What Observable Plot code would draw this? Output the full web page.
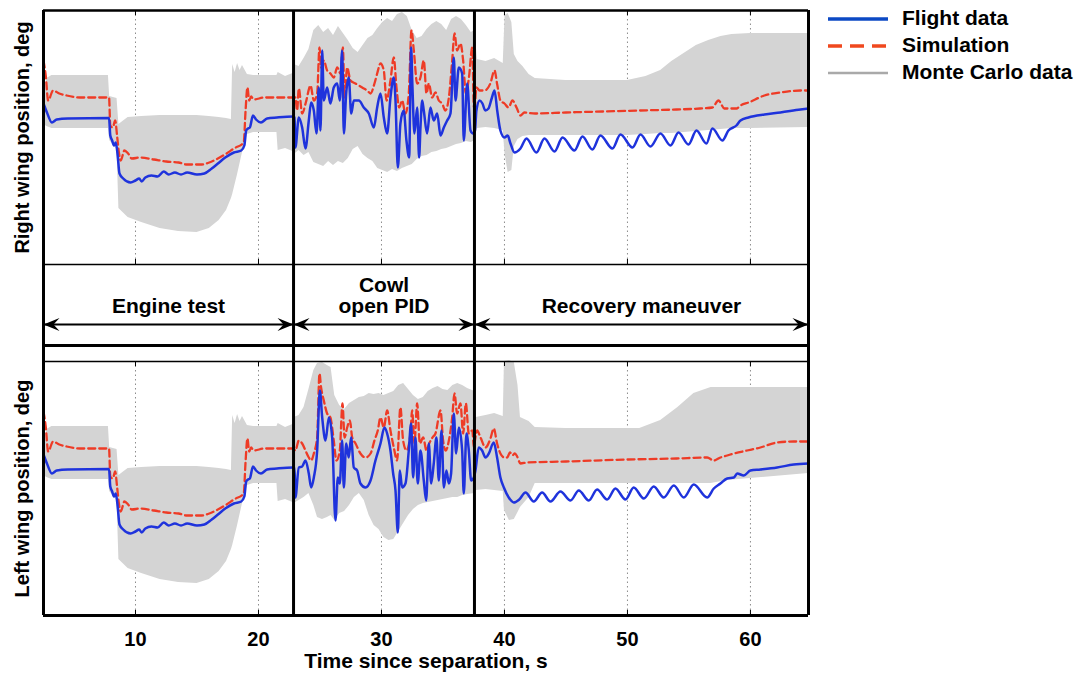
<!DOCTYPE html>
<html><head><meta charset="utf-8">
<script src="https://cdn.jsdelivr.net/npm/d3@7"></script>
<script src="https://cdn.jsdelivr.net/npm/@observablehq/plot@0.6"></script>
<style>
html,body{margin:0;padding:0;background:#fff;}
#chart{position:relative;width:1081px;height:679px;font-family:"Liberation Sans",Arial,Helvetica,sans-serif;}
#chart svg.plotsvg{position:absolute;left:0;}
.leg{position:absolute;left:826px;height:27px;line-height:27px;font-weight:bold;font-size:21px;color:#000;white-space:nowrap;}
.leg svg{vertical-align:middle;margin-right:12px;}
</style></head><body><div id="chart"></div>
<script>
// ---------- axes / phases ----------
const xDomain = [2.52, 64.72];
const yDomain = [0, 25.4];
const gridTicks = [10, 20, 30, 40, 50, 60];
const phaseBounds = [22.85, 37.56];
const phaseStart = [2.52, 22.85, 37.56];
const phaseEnd = [22.85, 37.56, 64.72];
const phaseLabels = ["Engine test", "Cowl\nopen PID", "Recovery maneuver"];
const legendLabels = ["Flight data", "Simulation", "Monte Carlo data"];

// ---------- engine test segment (same on both wings) : [t, deg] ----------
const engineFlight = [[2.52,16.1],[2.8,15.2],[3.2,14.2],[3.6,14.5],[4.5,14.6],[7.85,14.65],[7.95,12.9],[8.1,12.4],[8.25,11.9],[8.4,12.2],[8.55,10.9],[8.7,9.1],[9.0,8.6],[9.6,8.2],[10.0,8.4],[10.3,8.6],[10.5,8.3],[10.8,8.7],[11.3,8.9],[11.8,8.8],[12.3,9.3],[12.7,9.0],[13.2,9.2],[13.7,9.0],[14.2,9.2],[15.0,9.0],[15.6,9.1],[16.2,9.6],[16.7,10.1],[17.3,10.7],[18.0,11.2],[18.6,11.4],[18.85,11.9],[19.0,13.4],[19.15,13.6],[19.3,13.7],[19.55,14.9],[19.8,14.5],[20.2,14.2],[20.7,14.6],[21.5,14.7],[22.8,14.8]];
const engineSim = [[2.52,20.4],[2.7,18.9],[2.9,16.4],[3.3,17.4],[3.8,17.1],[4.4,16.9],[5.5,16.7],[7.85,16.7],[7.95,13.9],[8.15,13.7],[8.35,14.4],[8.5,12.9],[8.65,11.2],[8.8,10.4],[9.1,11.4],[9.4,11.1],[9.7,10.6],[10.4,10.7],[11.5,10.5],[12.5,10.3],[13.5,10.2],[14.2,10.0],[15.3,10.0],[16.0,10.2],[16.7,10.6],[17.4,11.1],[18.0,11.6],[18.8,12.2],[18.95,15.4],[19.1,17.7],[19.25,16.4],[19.4,16.8],[19.6,16.5],[20.5,16.7],[22.8,16.7]];
// Monte Carlo envelope: [t, low, high]
const engineMC = [[2.52,14.0,16.5],[2.8,13.8,18.6],[3.2,13.6,18.9],[7.8,13.6,18.9],[7.9,12.4,16.8],[8.5,11.5,16.6],[8.65,5.6,14.0],[9.4,4.7,14.7],[10.5,4.2,14.8],[12,3.6,14.9],[13.5,3.3,14.9],[15,3.2,14.9],[16,3.6,14.8],[16.8,4.4,14.7],[17.4,5.4,14.6],[17.8,6.6,14.5],[17.9,7.0,20.0],[18.1,8.0,19.2],[18.3,9.0,20.1],[18.5,10.1,19.4],[18.7,11.2,19.9],[19.1,13.0,19.0],[19.6,13.2,18.9],[21.5,13.2,18.9],[21.6,11.4,19.2],[22.2,11.6,18.8],[22.8,11.3,19.1]];

// ---------- right wing ----------
const rightCowlFlight = [[22.93,14.7],[23.0,11.7],[23.28,14.7],[23.55,13.7],[23.82,11.6],[24.09,14.4],[24.28,16.2],[24.5,15.4],[24.72,13.1],[24.9,17.7],[25.04,13.4],[25.18,21.4],[25.31,16.4],[25.58,17.7],[25.85,16.1],[26.12,17.7],[26.4,18.1],[26.61,16.4],[26.8,21.4],[26.94,13.1],[27.13,17.1],[27.34,18.7],[27.54,15.1],[27.75,16.4],[28.16,16.4],[28.56,15.7],[28.97,15.1],[29.38,13.7],[29.65,15.7],[29.92,17.1],[30.19,14.7],[30.46,13.1],[30.73,16.7],[31.0,18.7],[31.14,16.4],[31.33,9.7],[31.54,14.1],[31.81,15.4],[32.03,12.4],[32.25,10.7],[32.41,21.7],[32.52,17.7],[32.68,13.1],[32.9,15.7],[33.06,10.7],[33.17,13.7],[33.31,16.4],[33.44,15.4],[33.71,13.1],[33.98,15.7],[34.25,14.4],[34.53,15.1],[34.8,12.9],[35.07,13.7],[35.34,14.4],[35.61,15.1],[35.88,20.7],[36.02,16.4],[36.29,19.7],[36.56,19.1],[36.69,12.4],[36.97,18.1],[37.24,13.4],[37.45,13.1]];
const rightCowlSim = [[23.0,16.7],[23.14,15.4],[23.28,17.6],[23.55,15.1],[23.85,16.2],[24.23,17.9],[24.5,16.4],[24.77,17.1],[24.96,21.7],[25.09,19.7],[25.31,20.4],[25.58,19.4],[25.85,19.1],[26.12,18.7],[26.4,19.7],[26.67,19.1],[26.86,21.7],[27.0,16.7],[27.21,19.7],[27.48,18.4],[27.89,18.1],[28.43,17.7],[28.84,17.4],[29.11,17.1],[29.43,18.1],[29.65,19.1],[29.92,20.1],[30.19,19.4],[30.41,16.4],[30.73,18.4],[31.0,20.7],[31.22,17.7],[31.44,15.7],[31.68,16.4],[31.95,15.1],[32.22,17.1],[32.44,23.4],[32.63,21.4],[32.9,18.1],[33.17,18.7],[33.44,20.4],[33.66,17.1],[33.85,18.1],[34.12,16.7],[34.39,17.2],[34.66,16.4],[34.93,16.1],[35.2,15.4],[35.48,16.7],[35.75,20.4],[35.94,23.1],[36.15,21.4],[36.42,22.1],[36.64,20.4],[36.86,17.1],[37.11,18.7],[37.38,21.7],[37.52,15.7]];
const rightCowlMC = [[22.9,11.0,20.0],[23.3,11.4,19.8],[23.7,10.9,20.6],[24.1,11.2,21.5],[24.5,10.2,23.4],[24.9,10.0,23.9],[25.3,9.8,23.2],[25.7,10.3,23.6],[26.1,9.9,22.9],[26.5,10.3,23.8],[26.9,10.1,23.1],[27.3,10.6,22.4],[27.7,11.5,21.6],[28.1,11.8,21.2],[28.5,11.0,21.9],[28.9,10.6,22.6],[29.3,10.3,22.9],[29.7,9.6,23.6],[30.1,9.4,24.2],[30.5,9.2,24.6],[30.9,9.5,24.3],[31.3,9.3,25.0],[31.7,9.6,25.2],[32.1,9.8,24.8],[32.5,10.0,23.4],[32.9,10.5,22.6],[33.3,10.8,22.8],[33.7,10.9,23.5],[34.1,11.2,24.0],[34.5,11.3,24.3],[34.9,11.5,24.0],[35.3,11.6,23.4],[35.7,11.8,24.5],[36.1,12.0,24.8],[36.5,12.1,24.5],[36.9,12.3,23.9],[37.3,12.2,23.2],[37.6,12.4,23.4]];
const rightRecFlight = [[37.6,13.4],[37.72,15.4],[37.98,16.4],[38.21,16.1],[38.44,15.4],[38.7,15.6],[38.96,16.6],[39.19,17.4],[39.41,15.4],[39.67,13.4],[40.0,12.7],[40.26,12.9],[40.49,12.1],[40.81,11.2],[41.3,11.6],[41.79,12.6],[42.6,11.2],[43.25,12.6],[44.07,11.3],[44.72,12.7],[45.69,11.4],[46.34,12.8],[47.15,11.5],[47.8,12.9],[48.78,11.6],[49.43,13.0],[50.41,11.7],[51.06,13.0],[51.87,11.8],[52.68,13.1],[53.5,11.9],[54.15,13.2],[54.96,12.0],[55.61,13.4],[56.42,12.1],[56.91,13.6],[57.72,12.4],[58.21,13.4],[58.86,13.9],[59.19,14.4],[59.84,14.7],[61.14,15.0],[62.44,15.2],[64.07,15.5],[64.72,15.6]];
const rightRecSim = [[37.6,16.0],[37.72,17.7],[37.98,17.4],[38.4,17.4],[38.85,18.1],[39.19,19.4],[39.41,18.0],[39.67,16.4],[40.0,16.1],[40.33,15.7],[40.65,16.4],[40.98,15.7],[41.3,14.9],[41.62,15.2],[42.5,15.1],[45,15.2],[48,15.3],[51,15.4],[54,15.5],[55.9,15.6],[56.91,15.7],[57.4,16.4],[57.88,15.6],[58.86,15.6],[59.19,15.9],[59.84,16.2],[61.14,16.9],[62.44,17.2],[64.07,17.4],[64.72,17.4]];
const rightRecMC = [[37.8,13.6,20.5],[38.5,13.7,20.3],[39.2,13.6,20.6],[39.9,13.4,20.1],[40.05,11.0,24.9],[40.3,9.2,25.1],[40.6,9.4,24.2],[40.8,11.8,21.0],[41.1,12.5,20.3],[41.5,12.8,19.8],[42.0,12.9,19.0],[42.5,12.9,18.6],[45,12.9,18.4],[50,12.9,18.4],[51.5,13.0,18.8],[52.7,13.1,19.4],[53.6,13.1,20.3],[54.6,13.2,21.1],[55.6,13.3,21.9],[56.6,13.4,22.4],[57.6,13.5,22.8],[58.5,13.6,23.0],[60,13.6,23.1],[64.72,13.7,23.1]];

// ---------- left wing ----------
const leftCowlFlight = [[22.93,14.8],[23.0,11.8],[23.28,14.8],[23.55,14.9],[23.82,15.5],[24.09,14.2],[24.28,12.8],[24.5,13.8],[24.77,16.5],[24.99,22.5],[25.18,19.8],[25.45,17.5],[25.72,19.8],[25.99,17.8],[26.26,9.5],[26.45,13.8],[26.61,13.2],[26.8,17.5],[26.94,12.8],[27.13,17.2],[27.34,15.8],[27.53,17.8],[27.75,14.8],[28.02,14.5],[28.29,13.2],[28.7,12.8],[29.11,13.5],[29.51,15.5],[29.92,17.2],[30.24,18.8],[30.46,18.2],[30.73,16.5],[30.95,14.2],[31.14,12.5],[31.33,8.3],[31.49,14.5],[31.68,12.8],[31.95,13.2],[32.22,16.5],[32.41,19.2],[32.57,13.8],[32.76,17.8],[32.95,13.2],[33.17,16.5],[33.44,13.5],[33.63,11.5],[33.85,17.2],[34.04,13.2],[34.25,15.2],[34.47,17.8],[34.66,13.5],[34.88,18.5],[35.07,12.8],[35.28,14.5],[35.48,13.2],[35.66,14.2],[35.88,20.2],[36.07,16.2],[36.29,18.8],[36.56,16.5],[36.69,12.2],[36.91,18.2],[37.1,16.5],[37.29,13.5],[37.51,13.8]];
const leftCowlSim = [[23.0,16.5],[23.28,17.5],[23.55,17.2],[23.82,16.5],[24.09,15.8],[24.28,15.5],[24.5,16.2],[24.77,17.8],[24.96,24.2],[25.09,22.8],[25.31,21.5],[25.58,20.2],[25.85,19.8],[26.12,17.5],[26.34,15.5],[26.61,16.5],[26.83,21.2],[27.0,17.8],[27.21,18.8],[27.43,19.5],[27.62,17.8],[27.89,17.2],[28.29,16.2],[28.7,15.8],[29.11,16.2],[29.43,17.5],[29.7,18.5],[29.92,19.8],[30.19,18.8],[30.46,20.5],[30.73,18.5],[31.0,16.8],[31.27,15.5],[31.54,20.8],[31.76,17.5],[32.03,16.5],[32.36,18.2],[32.49,20.5],[32.68,17.2],[32.9,21.2],[33.12,17.2],[33.39,17.8],[33.66,16.5],[33.88,17.2],[34.15,17.8],[34.39,18.2],[34.8,20.5],[35.01,17.5],[35.23,16.5],[35.48,17.5],[35.75,19.8],[35.94,22.2],[36.15,20.2],[36.42,21.2],[36.64,18.2],[36.86,21.2],[37.1,18.2],[37.38,18.5],[37.52,16.8]];
const leftCowlMC = [[22.9,11.2,19.8],[23.3,11.5,20.0],[23.7,11.8,20.8],[24.1,12.2,22.6],[24.5,11.0,24.5],[24.8,9.8,25.2],[25.2,9.6,25.3],[25.6,9.8,25.0],[25.9,10.0,24.8],[26.2,9.5,22.0],[26.6,10.2,21.0],[27.0,10.4,20.6],[27.4,11.0,21.2],[27.8,11.8,21.5],[28.2,12.2,21.8],[28.6,11.5,21.9],[29.0,10.0,22.2],[29.4,9.0,22.1],[29.8,8.6,22.2],[30.2,7.8,22.0],[30.6,7.5,22.2],[31.0,7.6,22.4],[31.4,8.4,23.0],[31.8,9.2,23.2],[32.2,10.0,22.6],[32.6,10.6,22.0],[33.0,11.0,21.6],[33.4,11.2,21.8],[33.8,11.3,22.4],[34.2,11.4,22.7],[34.6,11.5,22.9],[35.0,11.6,22.6],[35.4,11.7,22.5],[35.8,11.8,23.0],[36.2,11.8,23.2],[36.6,12.0,23.0],[37.0,12.1,22.7],[37.6,12.2,22.4]];
const leftRecFlight = [[37.64,14.5],[37.91,16.8],[38.18,16.5],[38.46,15.8],[38.73,16.2],[39.13,17.3],[39.4,15.8],[39.67,13.8],[39.95,12.8],[40.35,11.8],[40.76,11.3],[41.2,11.6],[41.71,12.3],[42.38,11.4],[43.06,12.3],[43.74,11.4],[44.55,12.4],[45.37,11.5],[46.04,12.5],[46.86,11.5],[47.53,12.6],[48.35,11.6],[49.02,12.7],[49.84,11.6],[50.51,12.8],[51.33,11.7],[52.14,12.9],[52.95,11.8],[53.77,13.0],[54.58,11.8],[55.39,13.1],[56.48,11.8],[57.02,12.7],[57.56,13.2],[58.11,13.7],[58.65,13.8],[58.92,14.2],[59.46,14.0],[60.0,14.5],[60.81,14.6],[62.17,14.8],[63.52,15.1],[64.72,15.2]];
const leftRecSim = [[37.6,17.5],[37.78,18.5],[38.05,17.8],[38.46,16.8],[38.86,17.7],[39.13,18.7],[39.4,17.2],[39.67,16.2],[40.0,15.8],[40.22,15.8],[40.45,16.3],[40.63,16.0],[40.85,16.2],[41.03,15.9],[41.3,15.2],[41.84,15.3],[45,15.4],[50,15.6],[54,15.7],[56.48,15.8],[57.02,15.5],[57.56,15.8],[58.11,16.0],[58.65,16.2],[59.73,16.5],[60.81,16.8],[62.17,17.3],[63.52,17.4],[64.72,17.4]];
const leftRecMC = [[37.7,12.5,19.8],[38.5,12.6,20.0],[39.2,12.5,20.2],[39.9,12.4,19.9],[40.0,10.5,25.4],[40.4,9.5,25.5],[40.8,9.6,25.3],[41.1,10.3,23.0],[41.3,10.8,19.8],[42.0,11.8,19.4],[42.5,13.2,18.8],[45,13.2,18.7],[51,13.2,18.7],[52.7,13.2,19.5],[54.1,13.2,20.8],[55.4,13.2,22.2],[56.8,13.2,22.8],[58.1,13.5,22.8],[64.72,14.2,22.8]];

// ---------- styles ----------
const BLUE = "#1f33dc", RED = "#ee3b26", MCGREY = "#d4d4d4";
const FONT = "'Liberation Sans', Arial, Helvetica, sans-serif";
const W = 1081, ML = 43, MR = 1081 - 808;

const chart = document.getElementById("chart");
function place(svg, top) { svg.classList.add("plotsvg"); svg.style.top = top + "px"; chart.appendChild(svg); }

function panel({flight, sim, mc, label, height, marginTop, marginBottom, topW, botW, withAxis}) {
  const frameH = height - marginTop - marginBottom;
  const marks = [
    Plot.ruleX(gridTicks, {stroke: "#8c8c8c", strokeWidth: 1, strokeDasharray: "1.5,3"}),
    Plot.areaY(mc, {x: d => d[0], y1: d => d[1], y2: d => d[2], fill: MCGREY}),
    Plot.line(sim, {x: d => d[0], y: d => d[1], stroke: RED, strokeWidth: 2.3, strokeDasharray: "7,4", curve: "monotone-x"}),
    Plot.line(flight, {x: d => d[0], y: d => d[1], stroke: BLUE, strokeWidth: 2.5, curve: "monotone-x"}),
    Plot.ruleX(gridTicks, {stroke: "#000", strokeWidth: 1, insetBottom: frameH - 5}),
    Plot.ruleX(gridTicks, {stroke: "#000", strokeWidth: 1, insetTop: frameH - 5}),
    Plot.ruleX(phaseBounds, {stroke: "#000", strokeWidth: 3}),
    Plot.ruleX(xDomain, {stroke: "#000", strokeWidth: 3}),
    Plot.ruleY([yDomain[1]], {stroke: "#000", strokeWidth: topW}),
    Plot.ruleY([yDomain[0]], {stroke: "#000", strokeWidth: botW}),
    Plot.text([label], {x: () => xDomain[0], y: () => (yDomain[0] + yDomain[1]) / 2, rotate: -90, dx: -21, fontSize: 20, fontWeight: "bold", fill: "#000"})
  ];
  if (withAxis) {
    marks.push(Plot.axisX(gridTicks, {tickSize: 0, tickPadding: 16, fontSize: 20, fontWeight: "bold", label: null}));
    marks.push(Plot.text(["Time since separation, s"], {frameAnchor: "bottom", dy: 52, lineAnchor: "bottom", fontSize: 21, fontWeight: "bold", fill: "#000"}));
  }
  return Plot.plot({
    width: W, height, marginLeft: ML, marginRight: MR, marginTop, marginBottom,
    style: {background: "transparent", overflow: "visible", fontFamily: FONT, color: "#000"},
    x: {domain: xDomain, axis: null},
    y: {domain: yDomain, axis: null},
    marks
  });
}

// top panel: right wing
place(panel({
  flight: engineFlight.concat(rightCowlFlight, rightRecFlight),
  sim: engineSim.concat(rightCowlSim, rightRecSim),
  mc: engineMC.concat(rightCowlMC, rightRecMC),
  label: "Right wing position, deg",
  height: 265, marginTop: 10, marginBottom: 1, topW: 2.5, botW: 1.5, withAxis: false
}), 0);

// middle band: phase annotations
const ARROW_Y = 0.381, LABEL_Y = 0.505, BAND_Y = 0.165;
const stealthRight = {draw(ctx) { ctx.moveTo(0, 0); ctx.lineTo(-16, -6.5); ctx.lineTo(-10, 0); ctx.lineTo(-16, 6.5); ctx.closePath(); }};
const stealthLeft = {draw(ctx) { ctx.moveTo(0, 0); ctx.lineTo(16, -6.5); ctx.lineTo(10, 0); ctx.lineTo(16, 6.5); ctx.closePath(); }};
const phases = phaseLabels.map((name, i) => ({name, t0: phaseStart[i], t1: phaseEnd[i]}));
place(Plot.plot({
  width: W, height: 97, marginLeft: ML, marginRight: MR, marginTop: 0, marginBottom: 0,
  style: {background: "transparent", overflow: "visible", fontFamily: FONT, color: "#000"},
  x: {domain: xDomain, axis: null},
  y: {domain: [0, 1], axis: null},
  marks: [
    Plot.ruleX(xDomain, {stroke: "#000", strokeWidth: 3}),
    Plot.ruleX(phaseBounds, {stroke: "#000", strokeWidth: 3}),
    Plot.ruleY([BAND_Y], {stroke: "#000", strokeWidth: 3}),
    Plot.link(phases, {x1: "t0", x2: "t1", y1: () => ARROW_Y, y2: () => ARROW_Y, stroke: "#000", strokeWidth: 2}),
    Plot.dot(phases, {x: "t0", y: () => ARROW_Y, symbol: stealthLeft, fill: "#000", stroke: "none"}),
    Plot.dot(phases, {x: "t1", y: () => ARROW_Y, symbol: stealthRight, fill: "#000", stroke: "none"}),
    Plot.text(phases, {x: d => (d.t0 + d.t1) / 2, y: () => LABEL_Y, text: "name", lineAnchor: "bottom", fontSize: 21, fontWeight: "bold", fill: "#000"})
  ]
}), 264);

// bottom panel: left wing
place(panel({
  flight: engineFlight.concat(leftCowlFlight, leftRecFlight),
  sim: engineSim.concat(leftCowlSim, leftRecSim),
  mc: engineMC.concat(leftCowlMC, leftRecMC),
  label: "Left wing position, deg",
  height: 318, marginTop: 0, marginBottom: 64, topW: 1.5, botW: 3, withAxis: true
}), 361);

// legend
const legColors = ["#0c49c4", "#f0481e", "#a9a9a9"];
const legDash = ["", "14,8", ""];
const legWidth = [3.5, 3.5, 2.5];
legendLabels.forEach((lab, i) => {
  const div = document.createElement("div");
  div.className = "leg";
  div.style.top = (4 + i * 27) + "px";
  div.innerHTML = `<svg width="64" height="10"><line x1="2" x2="62" y1="5" y2="5" stroke="${legColors[i]}" stroke-width="${legWidth[i]}" ${legDash[i] ? `stroke-dasharray="${legDash[i]}"` : ""}/></svg>${lab}`;
  chart.appendChild(div);
});
</script></body></html>
